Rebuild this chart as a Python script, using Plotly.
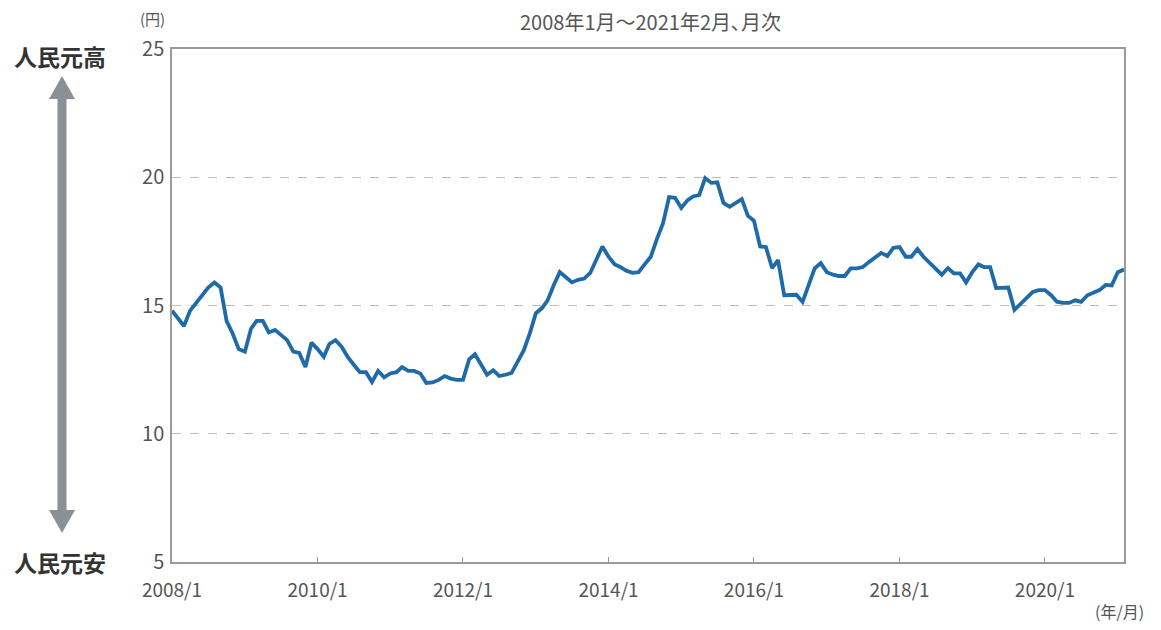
import plotly.graph_objects as go
import pandas as pd

# Monthly CNY/JPY rate (円 per 人民元), 2008/1 - 2021/2
values_2008 = [14.8, 14.5, 14.2, 14.8, 15.1, 15.4, 15.7, 15.9, 15.7, 14.4, 13.9, 13.3]
values_2009 = [13.2, 14.1, 14.4, 14.4, 13.95, 14.05, 13.85, 13.65, 13.2, 13.15, 12.6, 13.55]
values_2010 = [13.3, 13.0, 13.5, 13.65, 13.4, 13.0, 12.7, 12.4, 12.4, 12.02, 12.45, 12.2]
values_2011 = [12.35, 12.4, 12.6, 12.45, 12.45, 12.35, 11.98, 12.0, 12.1, 12.25, 12.15, 12.1]
values_2012 = [12.1, 12.9, 13.1, 12.7, 12.3, 12.48, 12.25, 12.3, 12.37, 12.8, 13.25, 13.9]
values_2013 = [14.7, 14.9, 15.2, 15.8, 16.3, 16.1, 15.9, 16.0, 16.05, 16.27, 16.8, 17.3]
values_2014 = [16.9, 16.6, 16.5, 16.35, 16.27, 16.3, 16.6, 16.9, 17.6, 18.2, 19.23, 19.2]
values_2015 = [18.8, 19.1, 19.25, 19.3, 19.97, 19.78, 19.8, 19.0, 18.85, 19.0, 19.15, 18.5]
values_2016 = [18.3, 17.3, 17.28, 16.46, 16.77, 15.4, 15.4, 15.42, 15.14, 15.8, 16.45, 16.65]
values_2017 = [16.3, 16.2, 16.15, 16.15, 16.45, 16.45, 16.5, 16.7, 16.9, 17.05, 16.93, 17.25]
values_2018 = [17.28, 16.9, 16.9, 17.2, 16.9, 16.65, 16.4, 16.2, 16.46, 16.25, 16.25, 15.9]
values_2019 = [16.3, 16.6, 16.5, 16.5, 15.68, 15.68, 15.7, 14.83, 15.05, 15.3, 15.53, 15.6]
values_2020 = [15.6, 15.4, 15.15, 15.1, 15.1, 15.2, 15.14, 15.4, 15.5, 15.6, 15.8, 15.78]
values_2021 = [16.3, 16.4]

rates = (values_2008 + values_2009 + values_2010 + values_2011 + values_2012 +
         values_2013 + values_2014 + values_2015 + values_2016 + values_2017 +
         values_2018 + values_2019 + values_2020 + values_2021)
dates = pd.date_range("2008-01-01", periods=len(rates), freq="MS")

tick_dates = ["2008-01-01", "2010-01-01", "2012-01-01", "2014-01-01",
              "2016-01-01", "2018-01-01", "2020-01-01"]
tick_labels = ["2008/1", "2010/1", "2012/1", "2014/1", "2016/1", "2018/1", "2020/1"]
y_ticks = [5, 10, 15, 20, 25]

FONT = "Noto Sans CJK JP"
GRAY_TXT = "#555555"

fig = go.Figure()
fig.add_trace(go.Scatter(x=dates, y=rates, mode="lines",
                         line=dict(color="#1f6aa8", width=3.8),
                         hoverinfo="skip", showlegend=False))

# page offset (html body margin)
OFF = 8
W, H = 1161 - 2 * OFF, 630 - 2 * OFF
# plot box in page pixels: x 172..1124, y 49..562
L = 172 - OFF
T = 49 - OFF
R = W - (1124 - OFF)
B = H - (562 - OFF)
pw, ph = W - L - R, H - T - B

def px(x):
    return (x - OFF - L) / pw

def py(y):
    return (H - B - (y - OFF)) / ph

fig.update_layout(
    width=W, height=H,
    margin=dict(l=L, r=R, t=T, b=B),
    paper_bgcolor="white", plot_bgcolor="white",
    font=dict(family=FONT, color=GRAY_TXT, size=19),
    xaxis=dict(range=[dates[0], dates[-1]], tickvals=tick_dates, ticktext=tick_labels,
               ticks="inside", ticklen=5, tickcolor="#999", showgrid=False,
               showline=True, linecolor="#9a9a9a", linewidth=1.5, mirror=True,
               ticklabelstandoff=10,
               tickfont=dict(size=19, color=GRAY_TXT), zeroline=False),
    yaxis=dict(range=[5, 25], tickvals=y_ticks, ticks="", showgrid=True,
               gridcolor="#bdbdbd", griddash="dash", gridwidth=1,
               showline=True, linecolor="#9a9a9a", linewidth=1.5, mirror=True,
               ticklabelstandoff=2,
               tickfont=dict(size=20, color=GRAY_TXT), zeroline=False),
)

shapes = []
arrow_col = "#8b9095"
cx = 62
shapes.append(dict(type="rect", xref="paper", yref="paper",
                   x0=px(cx - 4.5), x1=px(cx + 4.5), y0=py(512), y1=py(97),
                   fillcolor=arrow_col, line=dict(width=0), layer="above"))

def tri(x0, x1, xt, yb, yt):
    return (f"M {px(x0)} {py(yb)} L {px(x1)} {py(yb)} L {px(xt)} {py(yt)} Z")

shapes.append(dict(type="path", xref="paper", yref="paper",
                   path=tri(cx - 13, cx + 13, cx, 99, 76),
                   fillcolor=arrow_col, line=dict(width=0)))
shapes.append(dict(type="path", xref="paper", yref="paper",
                   path=tri(cx - 13, cx + 13, cx, 510, 533),
                   fillcolor=arrow_col, line=dict(width=0)))
fig.update_layout(shapes=shapes)

annotations = [
    dict(text="2008年1月～2021年2月､月次", x=px(650), y=py(21), xref="paper", yref="paper",
         showarrow=False, font=dict(size=20, color=GRAY_TXT), xanchor="center", yanchor="middle"),
    dict(text="(円)", x=px(152), y=py(19), xref="paper", yref="paper",
         showarrow=False, font=dict(size=15, color=GRAY_TXT), xanchor="center", yanchor="middle"),
    dict(text="(年/月)", x=px(1146), y=py(611), xref="paper", yref="paper",
         showarrow=False, font=dict(size=16, color=GRAY_TXT), xanchor="right", yanchor="middle"),
    dict(text="<b>人民元高</b>", x=px(60), y=py(56), xref="paper", yref="paper",
         showarrow=False, font=dict(size=23, color="#333333"), xanchor="center", yanchor="middle"),
    dict(text="<b>人民元安</b>", x=px(60), y=py(562), xref="paper", yref="paper",
         showarrow=False, font=dict(size=23, color="#333333"), xanchor="center", yanchor="middle"),
]
fig.update_layout(annotations=annotations)

fig.write_html("out.html")
